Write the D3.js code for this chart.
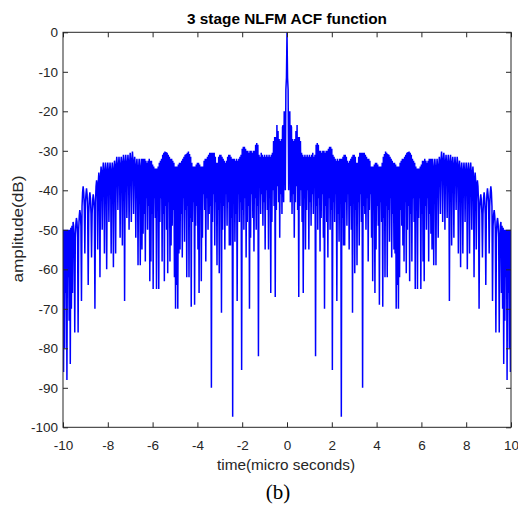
<!DOCTYPE html>
<html><head><meta charset="utf-8">
<script src="https://cdn.jsdelivr.net/npm/d3@7/dist/d3.min.js"></script>
<style>body{margin:0;background:#fff}svg{display:block}</style>
</head><body>
<script>
// ACF amplitude (dB), sampled every 0.025 µs
// t = -10 ... -0.025
const ampLeft = [
-50,-86,-50,-80,-50,-66,-50,-88,-50,-62,-50,-73,-50,-84,-49.5,-70,-49,-66,-48,-49,-52,
-76,-52,-48.5,-47,-48,-51,-76,-50,-46.5,-45,-46,-49,-68,-44,-40.5,-39,-40.5,-44,-56,-43,
-41,-39.5,-41,-45,-64,-46,-42,-40.5,-42,-46,-57,-46,-42.5,-41,-42.5,-45,-70,-43,-39,-37.5,
-39.5,-55,-38,-35.5,-38,-62,-36.5,-34,-36,-50,-35.5,-33,-35.5,-56,-35.5,-33,-35.5,-60,-35.5,-33,
-35.5,-48,-35.5,-33,-35.5,-56,-35.5,-33,-35.5,-59.5,-35,-32.5,-34.5,-56,-34,-31.5,-34,-45,-34,-31.5,
-34,-52,-34,-31.5,-33.5,-54,-33.5,-31,-33.5,-68,-33.5,-31,-33.5,-47,-33.5,-31,-33.5,-50,-33,-30.5,
-33,-48,-32.5,-30.2,-32.5,-46,-33.5,-31.5,-34,-52,-34.5,-32,-35,-59,-34.5,-32,-35,-59,-34.5,-32,
-55,-32,-51,-32,-46,-32,-58,-32.5,-42,-33,-50,-32.5,-44,-32,-63,-32.5,-58,-32.5,-46,-33.5,
-65,-34,-42,-34.5,-47,-34.5,-65,-34.5,-44,-34,-65,-33,-48,-32.5,-42,-32,-58,-31,-46,-30.5,
-63,-30.2,-44,-30.3,-50,-30.5,-61,-31,-43,-31.5,-58,-32,-54,-32,-49,-32.5,-45,-33,-62,-34,
-70,-34,-64,-34,-70,-33.5,-56,-33,-55,-33,-46,-32.5,-57,-32,-42,-31.5,-53,-31,-45,-30.8,
-62,-30.5,-44,-30.2,-62,-30.8,-47,-31.5,-69.5,-33,-48,-34,-43,-34,-69,-34,-49,-33.5,-44,-33,
-55,-33,-66,-33.5,-45,-34,-63,-34,-52,-34,-41,-32.5,-45,-32,-58,-32,-42,-31.5,-50,-31,
-46,-30.5,-44,-30.5,-90,-30.5,-48,-30.5,-41,-30.5,-54,-31.5,-43,-33,-59,-33,-45,-31.5,-61,-31,
-42,-31,-71,-31.5,-50,-32,-44,-32.5,-55,-33,-41,-32.5,-49,-31.5,-43,-31,-54,-31,-54,-31.5,
-47,-32,-97.3,-32,-42,-32,-53,-32.5,-46,-32,-68,-32.5,-41,-32,-48,-31.5,-43,-31,-85.5,-29.5,
-45,-29,-50,-29,-42,-29.5,-57,-30,-48,-30,-44,-30.5,-70,-30,-52,-30,-41,-30.5,-47,-30,
-55.5,-30,-42,-28.5,-50,-28,-44,-28.5,-82,-31,-39,-31.5,-46,-30.5,-41,-31,-49,-31.5,-43,-31,
-55,-31.5,-40,-31,-45,-31.5,-55,-31,-42,-31.5,-66,-31,-48,-30.5,-40,-27.5,-44,-26.5,-67,-26.5,
-45,-23.5,-39,-25,-43,-27,-52,-27.5,-41,-27,-46,-24,-23.5,-43,-20,-21,-40,-14.5,-11.5
];
// t = 0 ... 10
const ampRight = [
0,-11.5,-14.5,-40,-21,-20,-43,-23.5,-24,-46,-27,-41,-27.5,-52,-27,-43,-25,-39,-23.5,-45,
-26.5,-67,-26.5,-44,-27.5,-40,-30.5,-48,-31,-66,-31.5,-42,-31,-55,-31.5,-45,-31,-40,-31.5,-55,
-31,-43,-31.5,-49,-31,-41,-30.5,-46,-31.5,-39,-31,-82,-28.5,-44,-28,-50,-28.5,-42,-30,-55.5,
-30,-47,-30.5,-41,-30,-52,-30,-70,-30.5,-44,-30,-48,-30,-57,-29.5,-42,-29,-50,-29,-45,
-29.5,-85.5,-31,-43,-31.5,-48,-32,-41,-32.5,-68,-32,-46,-32.5,-53,-32,-42,-32,-97.3,-32,-47,
-31.5,-54,-31,-54,-31,-43,-31.5,-49,-32.5,-41,-33,-55,-32.5,-44,-32,-50,-31.5,-71,-31,-42,
-31,-61,-31.5,-45,-33,-59,-33,-43,-31.5,-54,-30.5,-41,-30.5,-48,-30.5,-90,-30.5,-44,-30.5,-46,
-31,-50,-31.5,-42,-32,-58,-32,-45,-32.5,-41,-34,-52,-34,-63,-34,-45,-33.5,-66,-33,-55,
-33,-44,-33.5,-49,-34,-69,-34,-43,-34,-48,-33,-69.5,-31.5,-47,-30.8,-62,-30.2,-44,-30.5,-62,
-30.8,-45,-31,-53,-31.5,-42,-32,-57,-32.5,-46,-33,-55,-33,-56,-33.5,-70,-34,-64,-34,-70,
-34,-62,-33,-45,-32.5,-49,-32,-54,-32,-58,-31.5,-43,-31,-61,-30.5,-50,-30.3,-44,-30.2,-63,
-30.5,-46,-31,-58,-32,-42,-32.5,-48,-33,-65,-34,-44,-34.5,-65,-34.5,-47,-34.5,-42,-34,-65,
-33.5,-46,-32.5,-58,-32.5,-63,-32,-44,-32.5,-50,-33,-42,-32.5,-58,-32,-46,-32,-51,-32,-55,
-32,-34.5,-59,-35,-32,-34.5,-59,-35,-32,-34.5,-52,-34,-31.5,-33.5,-46,-32.5,-30.2,-32.5,-48,-33,
-30.5,-33,-50,-33.5,-31,-33.5,-47,-33.5,-31,-33.5,-68,-33.5,-31,-33.5,-54,-33.5,-31.5,-34,-52,-34,
-31.5,-34,-45,-34,-31.5,-34,-56,-34.5,-32.5,-35,-59.5,-35.5,-33,-35.5,-56,-35.5,-33,-35.5,-48,-35.5,
-33,-35.5,-60,-35.5,-33,-35.5,-56,-35.5,-33,-35.5,-50,-36,-34,-36.5,-62,-38,-35.5,-38,-55,-39.5,
-37.5,-39,-43,-70,-45,-42.5,-41,-42.5,-46,-57,-46,-42,-40.5,-42,-46,-64,-45,-41,-39.5,-41,
-43,-56,-44,-40.5,-39,-40.5,-44,-68,-49,-46,-45,-46.5,-50,-76,-51,-48,-47,-48.5,-52,-76,
-52,-49,-48,-66,-49,-70,-49.5,-84,-50,-73,-50,-62,-50,-88,-50,-66,-50,-80,-50,-86,-50
];
const tStart = -10, tStep = 0.025;
const xTicks = [-10,-8,-6,-4,-2,0,2,4,6,8,10];
const yTicks = [0,-10,-20,-30,-40,-50,-60,-70,-80,-90,-100];
const titleText = "3 stage NLFM ACF function";
const xLabel = "time(micro seconds)";
const yLabel = "amplitude(dB)";
const caption = "(b)";

const W = 518, H = 506;
const L = 63, R = 511, T = 32.3, B = 427.3;
const font = "'Liberation Sans', Arial, sans-serif";
const axisCol = "#262626";

const x = d3.scaleLinear().domain([-10, 10]).range([L, R]);
const y = d3.scaleLinear().domain([-100, 0]).range([B, T]);

const amp = ampLeft.concat(ampRight);
const data = amp.map((v, i) => ({t: tStart + i * tStep, v}));

const svg = d3.select("body").append("svg").attr("width", W).attr("height", H);
svg.append("rect").attr("width", W).attr("height", H).attr("fill", "#fff");

svg.append("defs").append("clipPath").attr("id", "clip")
  .append("rect").attr("x", L).attr("y", T).attr("width", R - L).attr("height", B - T);

svg.append("path").datum(data)
  .attr("clip-path", "url(#clip)")
  .attr("fill", "none").attr("stroke", "#0000ff").attr("stroke-width", 1.5)
  .attr("d", d3.line().x(d => x(d.t)).y(d => y(d.v)));

const fmt = d => String(d);
function styleAxis(g, showText) {
  g.select(".domain").remove();
  g.selectAll("line").attr("stroke", axisCol).attr("stroke-width", 1);
  g.selectAll("text").attr("fill", axisCol).style("font-family", font).style("font-size", "13.5px");
  if (!showText) g.selectAll("text").remove();
}
svg.append("g").attr("transform", `translate(0,${B})`)
  .call(d3.axisBottom(x).tickValues(xTicks).tickSize(-5).tickPadding(13).tickFormat(fmt))
  .call(g => styleAxis(g, true));
svg.append("g").attr("transform", `translate(0,${T})`)
  .call(d3.axisTop(x).tickValues(xTicks).tickSize(-5))
  .call(g => styleAxis(g, false));
svg.append("g").attr("transform", `translate(${L},0)`)
  .call(d3.axisLeft(y).tickValues(yTicks).tickSize(-5).tickPadding(5).tickFormat(fmt))
  .call(g => styleAxis(g, true));
svg.append("g").attr("transform", `translate(${R},0)`)
  .call(d3.axisRight(y).tickValues(yTicks).tickSize(-5))
  .call(g => styleAxis(g, false));

svg.append("rect").attr("x", L).attr("y", T).attr("width", R - L).attr("height", B - T)
  .attr("fill", "none").attr("stroke", axisCol).attr("stroke-width", 1);

svg.append("text").attr("x", 287).attr("y", 24).attr("text-anchor", "middle")
  .attr("textLength", 200).attr("lengthAdjust", "spacingAndGlyphs")
  .style("font-family", font).style("font-size", "15.5px").style("font-weight", "bold")
  .attr("fill", "#000").text(titleText);
svg.append("text").attr("x", 286).attr("y", 470).attr("text-anchor", "middle")
  .attr("textLength", 138).attr("lengthAdjust", "spacingAndGlyphs")
  .style("font-family", font).style("font-size", "15.5px").attr("fill", axisCol).text(xLabel);
svg.append("text").attr("transform", `translate(23,229) rotate(-90)`).attr("text-anchor", "middle")
  .attr("textLength", 107).attr("lengthAdjust", "spacingAndGlyphs")
  .style("font-family", font).style("font-size", "15.5px").attr("fill", axisCol).text(yLabel);
svg.append("text").attr("x", 278).attr("y", 499).attr("text-anchor", "middle")
  .style("font-family", "'Liberation Serif', 'Times New Roman', serif").style("font-size", "21px")
  .attr("fill", "#000").text(caption);
</script>
</body></html>
